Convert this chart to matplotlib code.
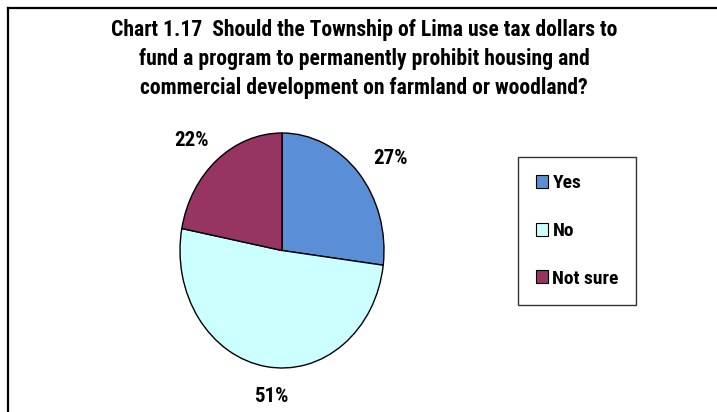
import numpy as np
import matplotlib.pyplot as plt
from matplotlib.patches import Patch
from matplotlib.lines import Line2D

title = ("Chart 1.17  Should the Township of Lima use tax dollars to\n"
         "fund a program to permanently prohibit housing and\n"
         "commercial development on farmland or woodland?")
labels = ['Yes', 'No', 'Not sure']
shares = [27, 51, 22]
colors = ['#5A8ED6', '#CCFFFF', '#963561']

plt.rcParams['font.family'] = ['Roboto Condensed', 'DejaVu Sans']
plt.rcParams['font.weight'] = 'bold'

W, H = 717, 412
fig = plt.figure(figsize=(W / 100, H / 100), dpi=100)

# frame lines (top and left)
fig.add_artist(Line2D([7.5 / W, 7.5 / W], [0, 1 - 7.5 / H], color='black', lw=1.6,
                      transform=fig.transFigure))
fig.add_artist(Line2D([7.5 / W, 1], [1 - 7.5 / H, 1 - 7.5 / H], color='black', lw=1.6,
                      transform=fig.transFigure))

fig.text(364 / W, 1 - 59 / H, title, ha='center', va='center', fontsize=15.6,
         fontweight='bold', linespacing=1.42)

# pie, drawn a bit taller than wide
ax = fig.add_axes([180 / W, 1 - 368 / H, 204 / W, 235 / H])
wedges, texts, autotexts = ax.pie(
    shares, colors=colors, startangle=90, counterclock=False,
    autopct='%d%%', pctdistance=1.3,
    wedgeprops=dict(edgecolor='black', linewidth=1.0))

# percent labels sit just outside each slice, nudged a little around the rim
nudge = [-5, 4, 4]
dist = [1.32, 1.25, 1.29]
for w, t, da, r in zip(wedges, autotexts, nudge, dist):
    ang = np.deg2rad((w.theta1 + w.theta2) / 2 + da)
    t.set_position((r * np.cos(ang), r * np.sin(ang)))
    t.set_fontsize(15)
    t.set_fontweight('bold')
ax.set_aspect('auto')
ax.set_xlim(-1.0, 1.0)
ax.set_ylim(-1.0, 1.0)

handles = [Patch(facecolor=c, edgecolor='black', linewidth=0.8) for c in colors]
leg = fig.legend(handles, labels, loc='upper left',
                 bbox_to_anchor=(518 / W, 1 - 157 / H), frameon=True,
                 prop={'weight': 'bold', 'size': 14},
                 handlelength=0.62, handleheight=0.62, handletextpad=0.25,
                 labelspacing=1.52, borderpad=0.9, borderaxespad=0,
                 fancybox=False)
leg.get_frame().set_edgecolor('black')
leg.get_frame().set_linewidth(1.0)

fig.savefig('out.png', dpi=100)
